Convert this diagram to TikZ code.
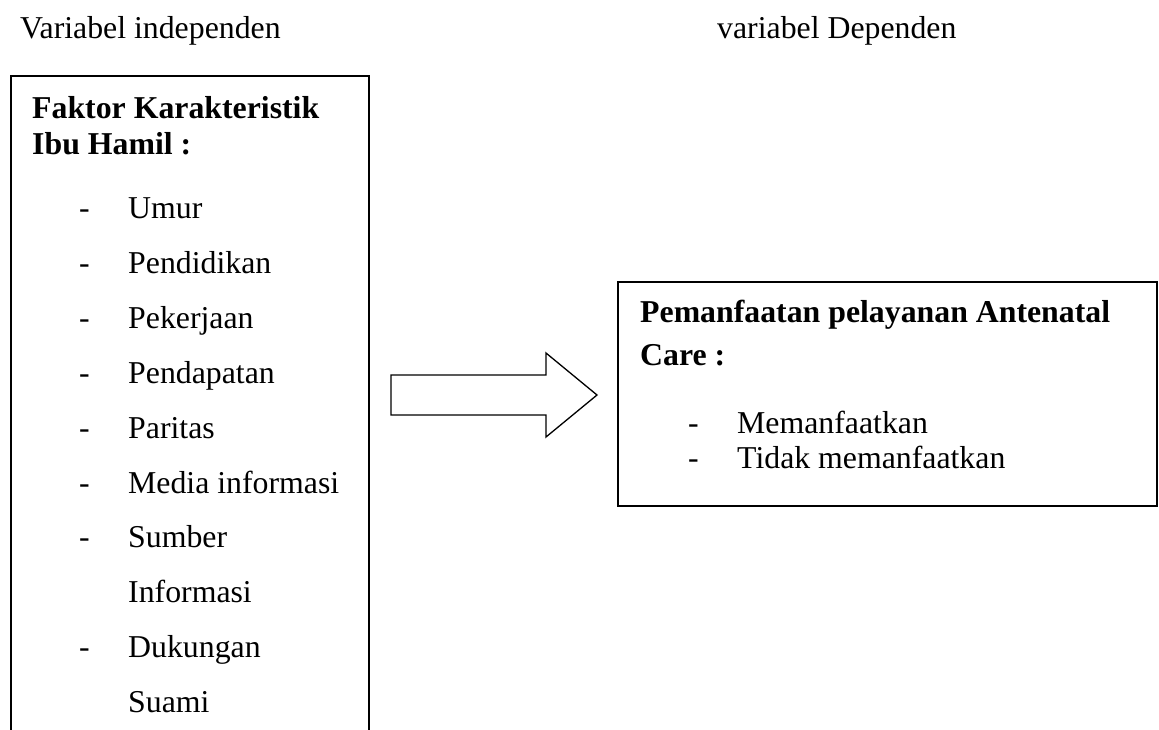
\documentclass[tikz,border=0pt]{standalone}
\usepackage{fontspec}
\setmainfont{Liberation Serif}
\begin{document}
\begin{tikzpicture}[x=1pt,y=-1pt,
  txt/.style={inner sep=0pt,anchor=base west,font=\fontsize{31.8}{38}\selectfont},
  bold/.style={txt,font=\fontsize{31.8}{38}\selectfont\bfseries},
  frame/.style={line width=2pt,draw=black},
  blockarrow/.style={line width=1.3pt,draw=black,fill=white,line join=miter}]
\useasboundingbox (0,0) rectangle (1159,729);
% headers
\node[txt] (hin) at (20,38) {Variabel independen};
\node[txt] (hdep) at (717,38) {variabel Dependen};
% left box (open at bottom)
\coordinate (lbl) at (11,731);
\coordinate (ltl) at (11,76);
\coordinate (ltr) at (369,76);
\coordinate (lbr) at (369,731);
\draw[frame] (lbl) -- (ltl) -- (ltr) -- (lbr);
\node[bold] (lt1) at (32,118) {Faktor Karakteristik};
\node[bold] (lt2) at (32,154) {Ibu Hamil :};
\foreach \i/\t/\d in {0/Umur/1,1/Pendidikan/1,2/Pekerjaan/1,3/Pendapatan/1,4/Paritas/1,5/Media informasi/1,6/Sumber/1,7/Informasi/0,8/Dukungan/1,9/Suami/0}{
  \pgfmathsetmacro\yy{218.5+54.9*\i}
  \ifnum\d=1 \node[txt] (ld\i) at (79,\yy) {-};\fi
  \node[txt] (li\i) at (128,\yy) {\t};
}
% block arrow
\coordinate (a1) at (391,375);
\coordinate (a2) at (546,375);
\coordinate (a3) at (546,353);
\coordinate (a4) at (597,395);
\coordinate (a5) at (546,437);
\coordinate (a6) at (546,415);
\coordinate (a7) at (391,415);
\draw[blockarrow] (a1) -- (a2) -- (a3) -- (a4) -- (a5) -- (a6) -- (a7) -- cycle;
% right box
\coordinate (rtl) at (618,282);
\coordinate (rbr) at (1157,506);
\draw[frame] (rtl) rectangle (rbr);
\node[bold] (rt1) at (640,322) {Pemanfaatan pelayanan Antenatal};
\node[bold] (rt2) at (640,365) {Care :};
\node[txt] (rd1) at (688,433) {-};
\node[txt] (ri1) at (737,433) {Memanfaatkan};
\node[txt] (rd2) at (688,468) {-};
\node[txt] (ri2) at (737,468) {Tidak memanfaatkan};
\end{tikzpicture}
\end{document}
